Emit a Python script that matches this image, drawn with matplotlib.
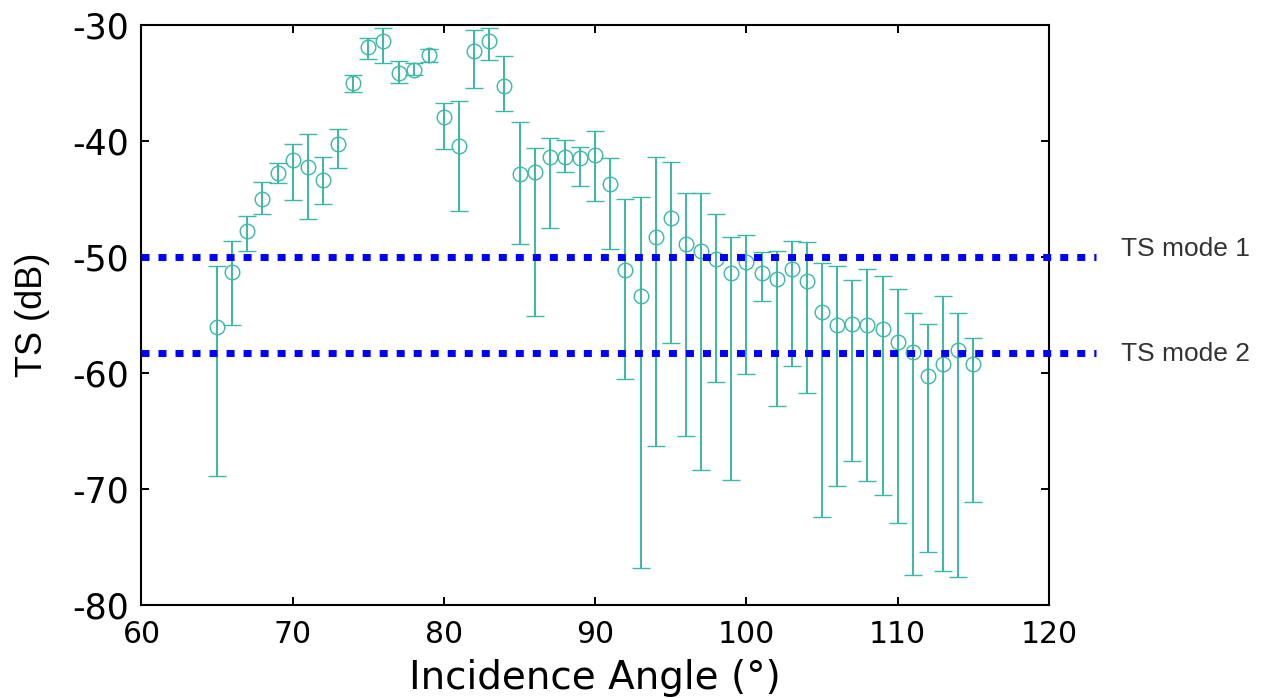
import numpy as np
import matplotlib
matplotlib.use('Agg')
import matplotlib.pyplot as plt

plt.rcParams['axes.unicode_minus'] = False

# incidence angle (deg), mean TS and lower/upper ends of the error bars (dB)
angle = np.arange(65, 116)
ts_mean = [-56.0, -51.3, -47.8, -45.0, -42.8, -41.6, -42.2, -43.4, -40.3, -35.0,
           -31.9, -31.4, -34.1, -33.9, -32.6, -37.9, -40.4, -32.2, -31.4, -35.3,
           -42.85, -42.7, -41.35, -41.4, -41.5, -41.2, -43.7, -51.1, -53.4, -48.25,
           -46.6, -48.9, -49.5, -50.2, -51.4, -50.4, -51.35, -51.9, -51.0, -52.1,
           -54.7, -55.9, -55.8, -55.9, -56.2, -57.3, -58.2, -60.3, -59.25, -58.0,
           -59.25]
ts_low = [-68.9, -55.9, -49.5, -46.3, -43.6, -45.1, -46.7, -45.4, -42.3, -35.75,
          -32.9, -33.25, -35.0, -34.3, -33.2, -40.7, -46.0, -35.4, -33.0, -37.4,
          -48.9, -55.1, -47.5, -42.7, -43.9, -45.2, -49.3, -60.5, -76.8, -66.3,
          -57.4, -65.4, -68.4, -60.75, -69.2, -60.1, -53.8, -62.85, -59.4, -61.7,
          -72.4, -69.7, -67.6, -69.3, -70.5, -72.9, -77.4, -75.4, -77.1, -77.6,
          -71.1]
ts_high = [-50.8, -48.6, -46.5, -43.5, -41.9, -40.3, -39.4, -41.35, -39.0, -34.3,
           -31.15, -30.3, -33.1, -33.3, -32.1, -36.7, -36.55, -30.4, -30.3, -32.7,
           -38.4, -40.6, -39.7, -39.9, -40.5, -39.1, -41.5, -45.0, -44.8, -41.35,
           -41.8, -44.5, -44.5, -46.3, -48.3, -48.1, -49.6, -49.5, -48.6, -48.7,
           -50.5, -50.8, -52.0, -51.0, -51.6, -52.8, -54.8, -55.8, -53.4, -54.8,
           -57.0]

mode_levels = [-50.0, -58.3]
mode_labels = ['TS mode 1', 'TS mode 2']
mode_text_y = [-49.3, -58.4]

ts_mean = np.array(ts_mean)
yerr = np.vstack([ts_mean - np.array(ts_low), np.array(ts_high) - ts_mean])

fig = plt.figure(figsize=(12.62, 6.98), dpi=100)
ax = fig.add_axes([0.1121, 0.1332, 0.7191, 0.8310])

teal = '#3bb8a7'
ax.errorbar(angle, ts_mean, yerr=yerr, fmt='o', color=teal, ecolor=teal,
            mfc='none', mec=teal, ms=10.5, mew=1.0, elinewidth=1.4,
            capsize=6.8, capthick=1.4, zorder=3)

# dotted reference levels, running past the right edge of the axes
for lev, lab, ty in zip(mode_levels, mode_labels, mode_text_y):
    ax.plot([60, 123.1], [lev, lev], color='#0000ff', lw=5,
             linestyle=(0, (1.15, 1.3)), dash_capstyle='butt',
             clip_on=False, zorder=4)
    ax.text(124.76, ty, lab, fontsize=19, color='#333333',
            family='Liberation Sans', ha='left', va='center', clip_on=False)

ax.set_xlim(60, 120)
ax.set_ylim(-80, -30)
ax.set_xticks(np.arange(60, 121, 10))
ax.set_yticks(np.arange(-80, -29, 10))

ax.tick_params(direction='in', length=6, width=1.4, top=True, right=True)
ax.tick_params(axis='x', labelsize=21.5, pad=11)
ax.tick_params(axis='y', labelsize=25, pad=9)
for sp in ax.spines.values():
    sp.set_linewidth(1.5)

ax.set_xlabel('Incidence Angle (°)', fontsize=28, va='center')
ax.xaxis.set_label_coords(0.5, -0.125)
ax.set_ylabel('TS (dB)', fontsize=26, family='Liberation Sans', va='center')
ax.yaxis.set_label_coords(-0.12, 0.5)

fig.savefig('out.png', dpi=100)
